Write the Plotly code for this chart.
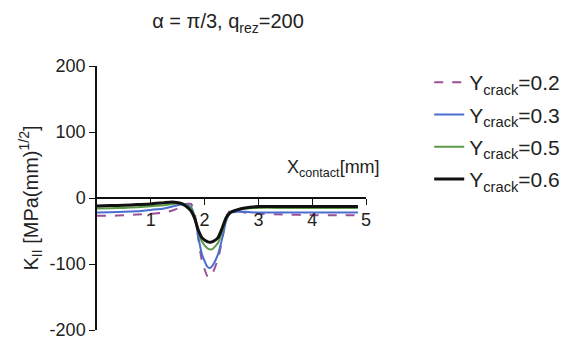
import plotly.graph_objects as go

x_vals = [0, 0.25, 0.5, 0.75, 1.0, 1.25, 1.4, 1.55, 1.65, 1.75, 1.82, 1.88, 1.95, 2.05, 2.1, 2.15, 2.25, 2.33, 2.4, 2.48, 2.6, 2.75, 3.0, 3.5, 4.0, 4.5, 4.85]
k_02 = [-27, -27, -26, -25, -24, -22, -19, -14, -9, -9, -25, -60, -95, -118, -120, -114, -92, -62, -30, -18, -19, -22, -24, -25, -26, -26, -26]
k_03 = [-22, -21.5, -21, -20, -18, -16, -13, -10, -9, -14, -30, -58, -85, -104, -106, -102, -85, -60, -35, -22, -21, -21, -22, -22, -22, -22, -22]
k_05 = [-16, -15.5, -15, -14, -12.5, -11, -9, -8, -10, -16, -30, -50, -66, -76, -78, -77, -68, -50, -32, -21, -18, -16, -15, -15, -15, -15, -15]
k_06 = [-12, -11.5, -11, -10, -9, -7, -6, -8, -12, -20, -32, -48, -60, -66, -67, -66, -60, -45, -30, -22, -18, -15, -13, -13, -13, -13, -13]

y_ticks = [-200, -100, 0, 100, 200]
y_tick_text = ["-200", "-100", "0", "100", "200"]
x_ticks = [1, 2, 3, 4, 5]

series = [
    ("Y<sub>crack</sub>=0.2", k_02, "#9a4f96", "dash", 2),
    ("Y<sub>crack</sub>=0.3", k_03, "#4a6ed0", "solid", 2),
    ("Y<sub>crack</sub>=0.5", k_05, "#5c9a48", "solid", 2),
    ("Y<sub>crack</sub>=0.6", k_06, "#111111", "solid", 3),
]

font = "Liberation Sans, Arial, sans-serif"
fig = go.Figure()
for i, (name, ys, col, dash, w) in enumerate(series):
    fig.add_trace(go.Scatter(x=x_vals, y=ys, name=name, mode="lines",
                             line=dict(color=col, dash=dash, width=w, shape="spline", smoothing=0.5),
                             legendgroup=str(i)))

fig.update_layout(
    width=576, height=335,
    margin=dict(l=89, r=218, t=58, b=13, autoexpand=False),
    paper_bgcolor="white", plot_bgcolor="white",
    font=dict(family=font, size=18, color="#222"),
    showlegend=True,
    legend=dict(x=1.235, y=1.015, xanchor="left", yanchor="top",
                font=dict(size=21), tracegroupgap=2, traceorder="grouped",
                itemwidth=30, bgcolor="rgba(0,0,0,0)"),
    xaxis=dict(range=[0, 5], tickvals=x_ticks, ticks="outside", ticklen=6,
               showline=True, linecolor="#111", linewidth=1.5, tickcolor="#111",
               showgrid=False, zeroline=False, anchor="free", position=0.5,
               tickfont=dict(size=18), automargin=False),
    yaxis=dict(range=[-200, 200], tickvals=y_ticks, ticktext=y_tick_text, ticks="outside", ticklen=6,
               showline=True, linecolor="#111", linewidth=1.5, tickcolor="#111",
               showgrid=False, zeroline=False, tickfont=dict(size=18), automargin=False,
               title=dict(text="K<sub>II</sub> [MPa(mm)<sup>1/2</sup>]", font=dict(size=20), standoff=6)),
    title=dict(text="α = π/3, q<sub>rez</sub>=200", x=0.382, xanchor="center", y=0.96, yanchor="middle",
               font=dict(size=20)),
)
fig.add_annotation(text="X<sub>contact</sub>[mm]", x=4.4, y=44, xref="x", yref="y",
                   showarrow=False, font=dict(size=18), xanchor="center", yanchor="middle")

fig.write_html("out.html")
